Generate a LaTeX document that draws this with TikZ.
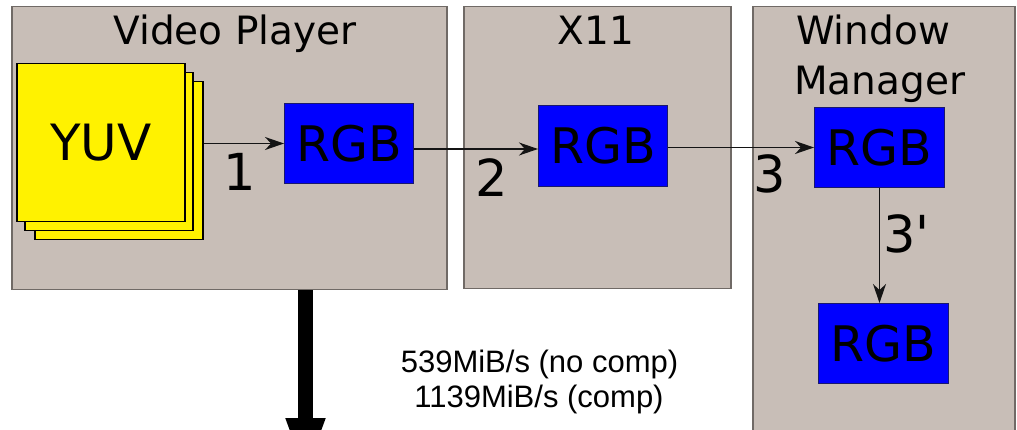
\documentclass[tikz,border=0pt]{standalone}
\usepackage{fontspec}
\setmainfont{DejaVu Sans}
\newfontfamily\labelfont{DejaVu Sans}
\newfontfamily\ratefont{Liberation Sans}
\usetikzlibrary{arrows.meta}

\definecolor{panelfill}{RGB}{200,190,183}
\definecolor{paneledge}{RGB}{112,106,102}
\definecolor{rgbedge}{RGB}{25,25,110}
\definecolor{inkline}{RGB}{20,20,20}

\begin{document}
\begin{tikzpicture}[x=1pt,y=-1pt,
  panel/.style={draw=paneledge, fill=panelfill, line width=1.5pt, inner sep=0pt, anchor=north west},
  sheet/.style={draw=black, fill=yellow, line width=1.5pt, minimum width=168pt, minimum height=158pt, inner sep=0pt, anchor=north west},
  rgbbox/.style={draw=rgbedge, fill=blue, line width=1pt, minimum width=129pt, minimum height=80pt, inner sep=0pt, anchor=north west, font=\fontsize{49}{55}\selectfont},
  title/.style={font=\fontsize{39}{45}\selectfont, anchor=base, inner sep=0pt},
  num/.style={font=\labelfont\fontsize{51}{58}\selectfont, anchor=base, inner sep=0pt},
  rate/.style={font=\ratefont\fontsize{31}{35}\selectfont, anchor=base, inner sep=0pt},
  flow/.style={draw=inkline, line width=1.3pt, -{Stealth[length=19pt,width=13pt,inset=6pt]}},
  bulk/.style={draw=black, line width=15pt, -{Triangle[length=60pt,width=35pt]}}
]
\path[use as bounding box] (0,0) rectangle (1017,430);
\clip (0,0) rectangle (1017,430);
\fill[white] (0,0) rectangle (1017,430);

% process panels
\node[panel, minimum width=435pt, minimum height=283pt] (vp) at (11,6) {};
\node[panel, minimum width=267pt, minimum height=282pt] (xs) at (463,6) {};
\node[panel, minimum width=262pt, minimum height=450pt] (wm) at (752,6) {};

\node[title] (vptitle) at (235,45) {Video Player};
\node[title] (xstitle) at (596,45) {X11};
\node[title, anchor=base west] (wmtitle1) at (796,45) {Window};
\node[title, anchor=base west] (wmtitle2) at (794,95) {Manager};

% stack of YUV frames
\node[sheet] (yuv3) at (34,81) {};
\node[sheet] (yuv2) at (24,72) {};
\node[sheet, font=\fontsize{50}{56}\selectfont] (yuv) at (16,63) {YUV};

% RGB buffers
\node[rgbbox] (rgb1) at (284,103) {RGB};
\node[rgbbox, minimum height=81pt] (rgb2) at (538,105) {RGB};
\node[rgbbox, minimum width=130pt] (rgb3) at (814,107) {RGB};
\node[rgbbox, minimum width=130pt] (rgb4) at (818,303) {RGB};

% copies
\coordinate (in2) at ([yshift=-3pt]rgb2.west);
\draw[flow] (yuv3.east |- rgb1.west) -- (rgb1.west);
\draw[flow] (in2 -| rgb1.east) -- (in2);
\draw[flow] (rgb3.west -| rgb2.east) -- (rgb3.west);
\draw[flow] (rgb3.south) -- (rgb3.south |- rgb4.north);

\node[num] (n1) at (240,191) {1};
\node[num] (n2) at (492,197) {2};
\node[num] (n3) at (770,193) {3};
\node[num, anchor=base west] (n3p) at (883,253) {3'};

% output bandwidth
\coordinate (sink) at (305.5,478);
\draw[bulk] (vp.south -| sink) -- (sink);
\node[rate] (rate1) at (539.5,372) {539MiB/s (no comp)};
\node[rate] (rate2) at (539,407) {1139MiB/s (comp)};
\end{tikzpicture}
\end{document}
